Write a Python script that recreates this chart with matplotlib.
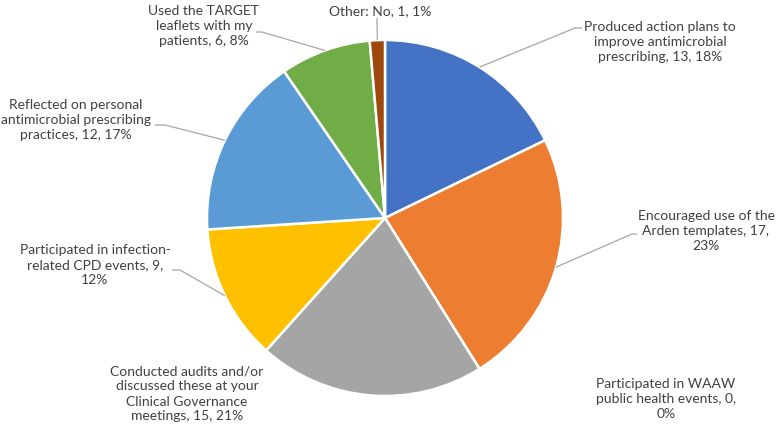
import numpy as np
import matplotlib
matplotlib.use("Agg")
import matplotlib.pyplot as plt

categories = [
    "Produced action plans to\nimprove antimicrobial\nprescribing",
    "Encouraged use of the\nArden templates",
    "Participated in WAAW\npublic health events",
    "Conducted audits and/or\ndiscussed these at your\nClinical Governance\nmeetings",
    "Participated in infection-\nrelated CPD events",
    "Reflected on personal\nantimicrobial prescribing\npractices",
    "Used the TARGET\nleaflets with my\npatients",
    "Other: No",
]
values = [13, 17, 0, 15, 9, 12, 6, 1]
percents = ["18%", "23%", "0%", "21%", "12%", "17%", "8%", "1%"]
label_texts = [
    "Produced action plans to\nimprove antimicrobial\nprescribing, 13, 18%",
    "Encouraged use of the\nArden templates, 17,\n23%",
    "Participated in WAAW\npublic health events, 0,\n0%",
    "Conducted audits and/or\ndiscussed these at your\nClinical Governance\nmeetings, 15, 21%",
    "Participated in infection-\nrelated CPD events, 9,\n12%",
    "Reflected on personal\nantimicrobial prescribing\npractices, 12, 17%",
    "Used the TARGET\nleaflets with my\npatients, 6, 8%",
    "Other: No, 1, 1%",
]
colors = ["#4472C4", "#ED7D31", "#264478", "#A5A5A5", "#FFC000", "#5B9BD5", "#70AD47", "#9E480E"]

W, H = 777, 430
fig = plt.figure(figsize=(W / 100, H / 100), dpi=100)
ax = fig.add_axes([0, 0, 1, 1])

cx, cy, R = 385, H - 218, 178
wedges, _ = ax.pie(values, colors=colors, startangle=90, counterclock=False,
                   center=(cx, cy), radius=R, frame=True,
                   wedgeprops=dict(edgecolor="white", linewidth=1.8))
ax.set_xlim(0, W)
ax.set_ylim(0, H)
ax.set_aspect("equal")
ax.axis("off")

# label layout (pixel coords from top): center x, center y, leader elbow, elbow tail end
layout = [
    (660, 42, (575, 28), (582, 28)),
    (706, 231, (632, 234), (637, 234)),
    (666, 399, None, None),
    (187, 394, None, None),
    (95, 265, (180, 270), (172, 270)),
    (76, 120, (165, 125), (155, 125)),
    (204, 26, (262, 32), (256, 32)),
    (380, 11, (377, 18), None),
]

txtcol = "#404040"
for w, txt, (lx, ly, elbow, tail) in zip(wedges, label_texts, layout):
    ax.text(lx, H - ly, txt, ha="center", va="center", fontsize=10,
            family=["Lato", "DejaVu Sans"], color=txtcol, linespacing=1.3)
    if elbow is not None:
        mid = np.deg2rad((w.theta1 + w.theta2) / 2)
        px = cx + R * np.cos(mid)
        py = cy + R * np.sin(mid)
        xs = [px, elbow[0]]
        ys = [py, H - elbow[1]]
        if tail is not None:
            xs.append(tail[0])
            ys.append(H - tail[1])
        ax.plot(xs, ys, color="#A6A6A6", lw=0.9, solid_capstyle="butt")

fig.savefig("out.png", dpi=100)
